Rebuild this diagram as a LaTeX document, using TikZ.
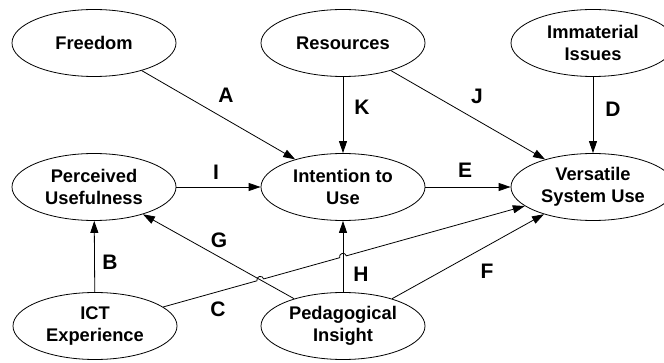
\documentclass[tikz,border=0pt]{standalone}
\usepackage{fontspec}
\setmainfont{Liberation Sans}
\usetikzlibrary{shapes.geometric, arrows.meta, intersections, calc}
\begin{document}
\begin{tikzpicture}[x=1pt, y=-1pt,
  construct/.style={ellipse, draw, line width=0.8pt, minimum width=164pt,
    minimum height=67pt, inner sep=0pt, align=center,
    font=\bfseries\fontsize{18.3}{22}\selectfont},
  conn/.style={line width=0.8pt, -{Triangle[length=12pt, width=8pt]}},
  pathlabel/.style={font=\bfseries\fontsize{21}{24}\selectfont, inner sep=0pt},
]
\useasboundingbox (0,0) rectangle (664,363);

% constructs
\node[construct] (fr)  at (94,43)   {Freedom};
\node[construct] (res) at (343,43)  {Resources};
\node[construct] (imm) at (593,43)  {Immaterial\\Issues};
\node[construct] (pu)  at (94,187)  {Perceived\\Usefulness};
\node[construct] (itu) at (343,187) {Intention to\\Use};
\node[construct] (vsu) at (593,187) {Versatile\\System Use};
\node[construct] (ict) at (95,326)  {ICT\\Experience};
\node[construct] (ped) at (343,326) {Pedagogical\\Insight};

% paths
\draw[conn] (fr) -- (itu);
\draw[conn] (res) -- (itu);
\draw[conn] (res) -- (vsu);
\draw[conn] (imm) -- (vsu);
\draw[conn] (pu) -- (itu);
\draw[conn] (itu) -- (vsu);
\draw[conn] (ict) -- (pu);
\draw[conn, name path=gline] (ped) -- (pu);
\draw[conn, name path=hline] (ped) -- (itu);
\draw[conn] (ped) -- (vsu);

% path C hops over G and H
\path[name path=cline] (ict.center) -- (vsu.center);
\path[name intersections={of=cline and gline, by={cg}}];
\path[name intersections={of=cline and hline, by={ch}}];
\def\hop{3.5pt}
\draw[conn] let \p1=($(vsu.center)-(ict.center)$), \n1={atan2(\y1,\x1)} in
  (ict) -- ($(cg)!\hop!(ict.center)$)
  arc[start angle=\n1+180, end angle=\n1, radius=\hop]
  -- ($(ch)!\hop!(ict.center)$)
  arc[start angle=\n1+180, end angle=\n1, radius=\hop]
  -- (vsu);

% path labels
\node[pathlabel] (la) at (226,95)  {A};
\node[pathlabel] (lk) at (362,107) {K};
\node[pathlabel] (lj) at (477,96)  {J};
\node[pathlabel] (ld) at (613,109) {D};
\node[pathlabel] (li) at (216,172) {I};
\node[pathlabel] (le) at (465,170) {E};
\node[pathlabel] (lb) at (110,262) {B};
\node[pathlabel] (lg) at (219,240) {G};
\node[pathlabel] (lc) at (218,309) {C};
\node[pathlabel] (lh) at (361,274) {H};
\node[pathlabel] (lf) at (487,271) {F};
\end{tikzpicture}
\end{document}
